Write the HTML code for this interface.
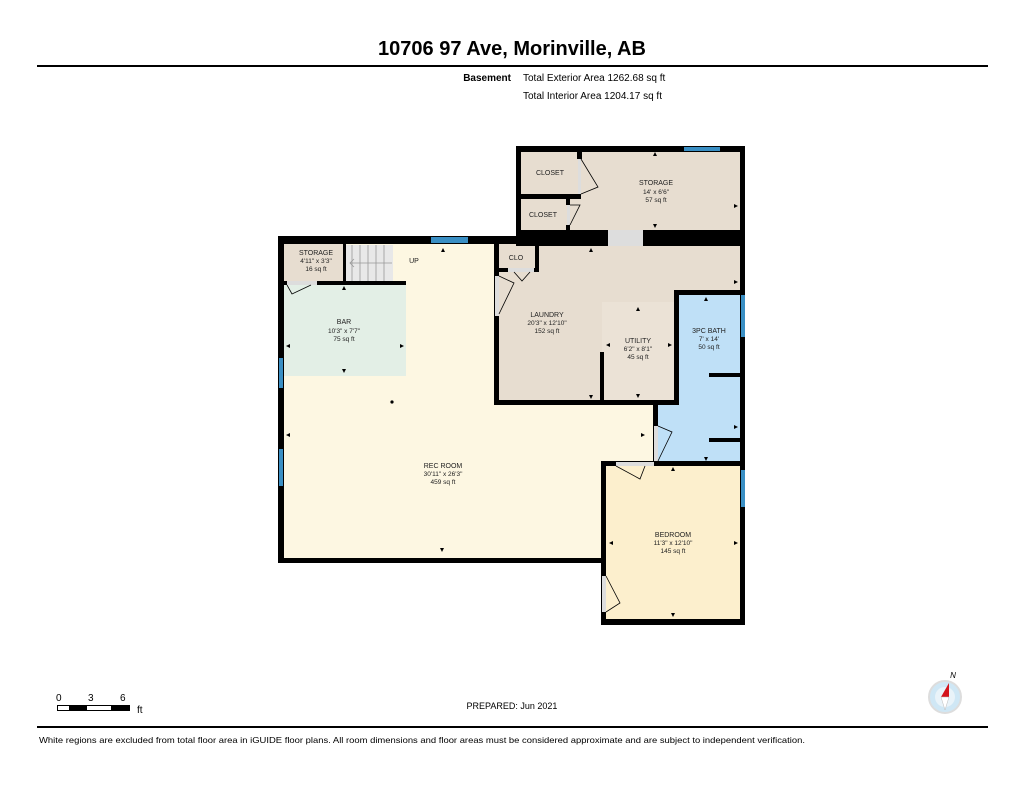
<!DOCTYPE html>
<html><head><meta charset="utf-8"><style>
body{margin:0;background:#fff;width:1024px;height:791px;overflow:hidden;font-family:"Liberation Sans",Arial,sans-serif}
svg text{font-family:"Liberation Sans",Arial,sans-serif}
</style></head><body>
<svg width="1024" height="791" viewBox="0 0 1024 791" xmlns="http://www.w3.org/2000/svg">
<text x="512" y="55" font-size="20" font-weight="bold" text-anchor="middle">10706 97 Ave, Morinville, AB</text>
<rect x="37" y="65" width="951" height="2" fill="#000"/>
<text x="511" y="81" font-size="10" font-weight="bold" text-anchor="end">Basement</text>
<text x="523" y="81" font-size="10">Total Exterior Area 1262.68 sq ft</text>
<text x="523" y="99" font-size="10">Total Interior Area 1204.17 sq ft</text>

<!-- floors -->
<rect x="282" y="242" width="215" height="318" fill="#fdf7e2"/>
<rect x="497" y="400" width="160" height="160" fill="#fdf7e2"/>
<rect x="520" y="150" width="222" height="82" fill="#e7ddd0"/>
<rect x="497" y="244" width="245" height="158" fill="#e7ddd0"/>
<rect x="602" y="302" width="74" height="99" fill="#ebe2d6"/>
<rect x="677" y="292" width="65" height="172" fill="#bfe0f7"/>
<rect x="655" y="402" width="25" height="62" fill="#bfe0f7"/>
<rect x="604" y="464" width="138" height="158" fill="#fcefcd"/>
<rect x="284" y="284" width="122" height="92" fill="#e3efe6"/>
<rect x="284" y="244" width="60" height="38" fill="#e7ddd0"/>
<rect x="346" y="245" width="47" height="37" fill="#e8e8e8"/>
<g stroke="#999" stroke-width="0.8">
<line x1="352" y1="245" x2="352" y2="281"/><line x1="360" y1="245" x2="360" y2="281"/><line x1="368" y1="245" x2="368" y2="281"/><line x1="376" y1="245" x2="376" y2="281"/><line x1="384" y1="245" x2="384" y2="281"/>
<polyline points="392,263 350,263" fill="none"/><polyline points="354,259 350,263 354,267" fill="none"/>
</g>
<rect x="343" y="244" width="3" height="38" fill="#000"/>

<!-- walls -->
<g fill="#000">
<rect x="516" y="146" width="229" height="6"/>
<rect x="516" y="146" width="5" height="100"/>
<rect x="740" y="146" width="5" height="479"/>
<rect x="278" y="236" width="467" height="8"/>
<rect x="516" y="230" width="229" height="16"/>
<rect x="278" y="236" width="6" height="327"/>
<rect x="278" y="558" width="328" height="5"/>
<rect x="601" y="461" width="5" height="164"/>
<rect x="601" y="619" width="144" height="6"/>
<rect x="601" y="461" width="144" height="5"/>
<rect x="494" y="244" width="5" height="161"/>
<rect x="494" y="400" width="185" height="5"/>
<rect x="674" y="290" width="5" height="115"/>
<rect x="674" y="290" width="71" height="5"/>
<rect x="653" y="402" width="5" height="62"/>
<rect x="600" y="352" width="4" height="50"/>
<rect x="709" y="373" width="36" height="4"/>
<rect x="709" y="438" width="36" height="4"/>
<rect x="284" y="281" width="122" height="4"/>
<rect x="535" y="244" width="4" height="28"/>
<rect x="497" y="268" width="40" height="4"/>
<rect x="521" y="194" width="60" height="5"/>
<rect x="577" y="151" width="5" height="8"/>
<rect x="566" y="199" width="4" height="6"/>
<rect x="566" y="225" width="4" height="6"/>
</g>
<!-- closets -->
<rect x="521" y="152" width="56" height="42" fill="#e7ddd0"/>
<rect x="521" y="199" width="45" height="31" fill="#e7ddd0"/>
<!-- openings -->
<rect x="608" y="230" width="35" height="16" fill="#ddd"/>
<rect x="578" y="159" width="3" height="35" fill="#ddd"/>
<rect x="567" y="205" width="3" height="20" fill="#ddd"/>
<rect x="495" y="276" width="4" height="40" fill="#ddd"/>
<rect x="654" y="426" width="4" height="35" fill="#ddd"/>
<rect x="616" y="462" width="38" height="4" fill="#ddd"/>
<rect x="602" y="576" width="4" height="36" fill="#ddd"/>
<rect x="508" y="268" width="26" height="4" fill="#ddd"/>
<rect x="287" y="281" width="30" height="4" fill="#ddd"/>
<!-- windows -->
<g fill="#3a8fc4">
<rect x="684" y="147" width="36" height="4"/>
<rect x="431" y="237" width="37" height="6"/>
<rect x="279" y="358" width="4" height="30"/>
<rect x="279" y="449" width="4" height="37"/>
<rect x="741" y="295" width="4" height="42"/>
<rect x="741" y="470" width="4" height="37"/>
</g>
<!-- door swings -->
<g stroke="#000" stroke-width="0.8" fill="none">
<polyline points="581,159 598,187 581,194"/>
<polyline points="570,205 580,205 570,225"/>
<polyline points="499,276 514,283 499,314"/>
<polyline points="514,272 522,281 530,272"/>
<polyline points="658,426 672,432 658,461"/>
<polyline points="616,466 640,479 645,466"/>
<polyline points="606,576 620,603 606,612"/>
<polyline points="287,285 292,294 311,285"/>
</g>
<!-- labels -->
<g font-size="7" text-anchor="middle" fill="#222">
<text x="550" y="175">CLOSET</text>
<text x="543" y="217">CLOSET</text>
<text x="656" y="185">STORAGE</text><text x="656" y="194" font-size="6.5">14' x 6'6"</text><text x="656" y="202" font-size="6.5">57 sq ft</text>
<text x="316" y="255">STORAGE</text><text x="316" y="263" font-size="6.5">4'11" x 3'3"</text><text x="316" y="271" font-size="6.5">16 sq ft</text>
<text x="414" y="263">UP</text>
<text x="516" y="260">CLO</text>
<text x="344" y="324">BAR</text><text x="344" y="333" font-size="6.5">10'3" x 7'7"</text><text x="344" y="341" font-size="6.5">75 sq ft</text>
<text x="547" y="317">LAUNDRY</text><text x="547" y="325" font-size="6.5">20'3" x 12'10"</text><text x="547" y="333" font-size="6.5">152 sq ft</text>
<text x="638" y="343">UTILITY</text><text x="638" y="351" font-size="6.5">6'2" x 8'1"</text><text x="638" y="359" font-size="6.5">45 sq ft</text>
<text x="709" y="333">3PC BATH</text><text x="709" y="341" font-size="6.5">7' x 14'</text><text x="709" y="349" font-size="6.5">50 sq ft</text>
<text x="443" y="468">REC ROOM</text><text x="443" y="476" font-size="6.5">30'11" x 26'3"</text><text x="443" y="484" font-size="6.5">459 sq ft</text>
<text x="673" y="537">BEDROOM</text><text x="673" y="545" font-size="6.5">11'3" x 12'10"</text><text x="673" y="553" font-size="6.5">145 sq ft</text>
</g>
<circle cx="392" cy="402" r="1.6" fill="#000"/>
<!-- small dimension arrows -->
<g fill="#000">
<path d="M442,552 l-2,-4 h4z"/><path d="M344,373 l-2,-4 h4z"/><path d="M286,435 l4,-2 v4z"/><path d="M645,435 l-4,-2 v4z"/>
<path d="M286,346 l4,-2 v4z"/><path d="M404,346 l-4,-2 v4z"/><path d="M443,248 l-2,4 h4z"/><path d="M344,286 l-2,4 h4z"/>
<path d="M591,399 l-2,-4 h4z"/><path d="M591,248 l-2,4 h4z"/><path d="M738,282 l-4,-2 v4z"/>
<path d="M655,152 l-2,4 h4z"/><path d="M655,228 l-2,-4 h4z"/><path d="M738,206 l-4,-2 v4z"/>
<path d="M638,307 l-2,4 h4z"/><path d="M638,398 l-2,-4 h4z"/><path d="M606,345 l4,-2 v4z"/><path d="M672,345 l-4,-2 v4z"/>
<path d="M706,297 l-2,4 h4z"/><path d="M706,461 l-2,-4 h4z"/><path d="M738,427 l-4,-2 v4z"/>
<path d="M673,467 l-2,4 h4z"/><path d="M673,617 l-2,-4 h4z"/><path d="M609,543 l4,-2 v4z"/><path d="M738,543 l-4,-2 v4z"/>
</g>

<!-- scale -->
<g font-size="10"><text x="56" y="701">0</text><text x="88" y="701">3</text><text x="120" y="701">6</text><text x="137" y="713">ft</text></g>
<rect x="57.5" y="705.5" width="72" height="5" fill="#fff" stroke="#000" stroke-width="1"/>
<rect x="69" y="705" width="18" height="6" fill="#000"/><rect x="111" y="705" width="18" height="6" fill="#000"/>
<text x="512" y="709" font-size="9" text-anchor="middle">PREPARED: Jun 2021</text>
<!-- compass -->
<circle cx="945" cy="697" r="16" fill="#cfe7f5" stroke="#ddd" stroke-width="2"/>
<circle cx="945" cy="697" r="10" fill="#e9f3f9"/>
<path d="M949,683 L941,697 L949,697 Z" fill="#d4131b"/>
<path d="M949,697 L941,697 L945,710 Z" fill="#fff" stroke="#bbb" stroke-width="0.5"/>
<text x="953" y="678" font-size="8" font-style="italic" text-anchor="middle">N</text>
<rect x="37" y="726" width="951" height="2" fill="#000"/>
<text x="39" y="743" font-size="8.5" textLength="766" lengthAdjust="spacingAndGlyphs">White regions are excluded from total floor area in iGUIDE floor plans. All room dimensions and floor areas must be considered approximate and are subject to independent verification.</text>
</svg>
</body></html>
